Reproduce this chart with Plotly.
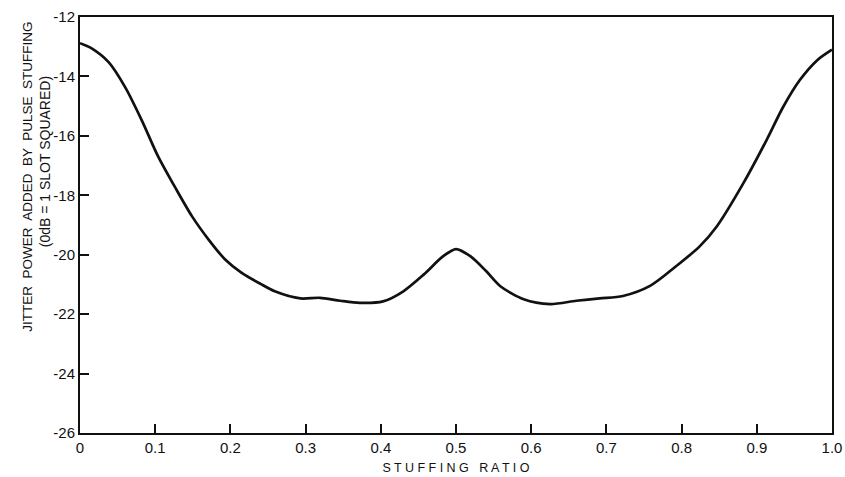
import plotly.graph_objects as go

# Data
stuffing_ratio = [0.0, 0.015, 0.038, 0.060, 0.082, 0.104, 0.126, 0.149, 0.171, 0.193,
                  0.215, 0.240, 0.259, 0.293, 0.319, 0.346, 0.372, 0.403, 0.430, 0.457,
                  0.483, 0.500, 0.519, 0.540, 0.559, 0.590, 0.625, 0.660, 0.691, 0.722,
                  0.758, 0.793, 0.824, 0.847, 0.882, 0.913, 0.935, 0.957, 0.980, 1.0]
jitter_db = [-12.88, -13.05, -13.52, -14.36, -15.47, -16.70, -17.71, -18.71, -19.49, -20.16,
             -20.61, -20.98, -21.23, -21.47, -21.45, -21.55, -21.62, -21.57, -21.23, -20.67,
             -20.05, -19.81, -20.05, -20.55, -21.06, -21.50, -21.66, -21.55, -21.47, -21.39,
             -21.05, -20.38, -19.72, -19.04, -17.60, -16.14, -15.03, -14.13, -13.46, -13.10]

x_tickvals = [0, 0.1, 0.2, 0.3, 0.4, 0.5, 0.6, 0.7, 0.8, 0.9, 1.0]
x_ticktext = ["0", "0.1", "0.2", "0.3", "0.4", "0.5", "0.6", "0.7", "0.8", "0.9", "1.0"]
y_tickvals = [-26, -24, -22, -20, -18, -16, -14, -12]
y_ticktext = ["-26", "-24", "-22", "-20", "-18", "-16", "-14", "-12"]

FONT = "Liberation Sans, Arial, Helvetica, sans-serif"
INK = "#111111"

fig = go.Figure()
fig.add_trace(go.Scatter(
    x=stuffing_ratio, y=jitter_db, mode="lines",
    line=dict(color=INK, width=2.7, shape="spline", smoothing=0.8),
    hoverinfo="skip", showlegend=False, cliponaxis=False,
))

fig.update_layout(
    width=845, height=477,
    margin=dict(l=80, r=13, t=17, b=44),
    paper_bgcolor="white", plot_bgcolor="white",
    font=dict(family=FONT, size=14, color=INK),
    xaxis=dict(
        range=[0, 1.0], tickvals=x_tickvals, ticktext=x_ticktext,
        showgrid=False, zeroline=False, automargin=False,
        showline=True, linecolor=INK, linewidth=2, mirror=True,
        ticks="inside", ticklen=9, tickwidth=1.8, tickcolor=INK,
        tickfont=dict(family=FONT, size=15, color=INK),
        title=dict(text="S T U F F I N G  &nbsp;R A T I O", font=dict(family=FONT, size=12.5, color=INK), standoff=8),
    ),
    yaxis=dict(
        range=[-26, -12], tickvals=y_tickvals, ticktext=y_ticktext,
        showgrid=False, zeroline=False, automargin=False,
        showline=True, linecolor=INK, linewidth=2, mirror=True,
        ticks="inside", ticklen=9, tickwidth=1.8, tickcolor=INK,
        tickfont=dict(family=FONT, size=15, color=INK),
    ),
    annotations=[
        dict(text="JITTER  POWER  ADDED  BY  PULSE  STUFFING", textangle=-90,
             xref="paper", yref="paper", x=-0.0824, y=0.615,
             showarrow=False, font=dict(family=FONT, size=13.5, color=INK)),
        dict(text="(0dB = 1 SLOT SQUARED)", textangle=-90,
             xref="paper", yref="paper", x=-0.0598, y=0.651,
             showarrow=False, font=dict(family=FONT, size=14, color=INK)),
    ],
)

fig.write_html("out.html",
               config={"displayModeBar": False},
               post_script="document.body.style.margin='0';document.body.style.overflow='hidden';")
